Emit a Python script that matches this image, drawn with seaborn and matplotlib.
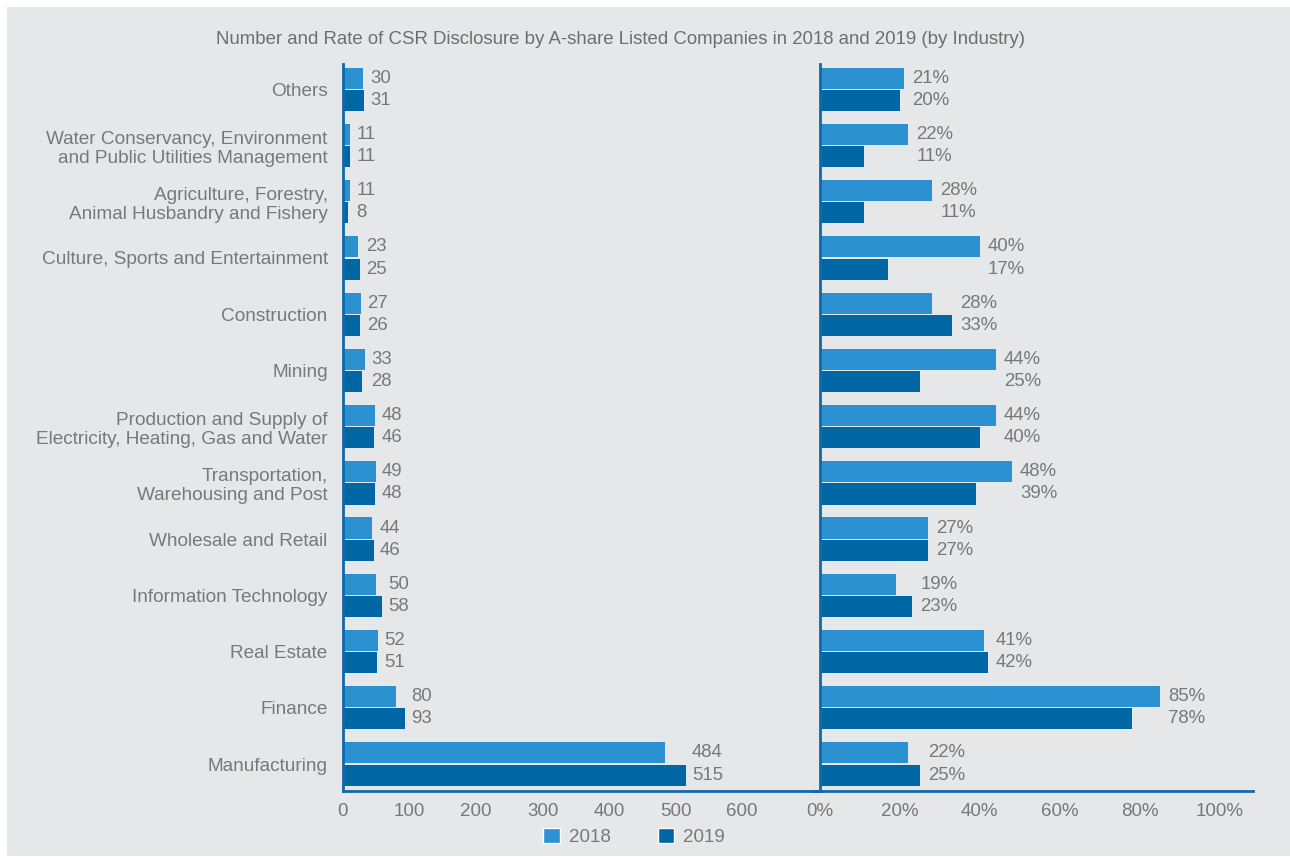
import matplotlib
matplotlib.use("Agg")
import matplotlib.pyplot as plt
import matplotlib.patches as mpatches
import seaborn as sns
import pandas as pd

categories = [
    "Others",
    "Water Conservancy, Environment\nand Public Utilities Management",
    "Agriculture, Forestry,\nAnimal Husbandry and Fishery",
    "Culture, Sports and Entertainment",
    "Construction",
    "Mining",
    "Production and Supply of\nElectricity, Heating, Gas and Water",
    "Transportation,\nWarehousing and Post",
    "Wholesale and Retail",
    "Information Technology",
    "Real Estate",
    "Finance",
    "Manufacturing",
]
count_2018 = [30, 11, 11, 23, 27, 33, 48, 49, 44, 50, 52, 80, 484]
count_2019 = [31, 11, 8, 25, 26, 28, 46, 48, 46, 58, 51, 93, 515]
rate_2018 = [21, 22, 28, 40, 28, 44, 44, 48, 27, 19, 41, 85, 22]
rate_2019 = [20, 11, 11, 17, 33, 25, 40, 39, 27, 23, 42, 78, 25]
years = ["2018", "2019"]
count_ticks = [0, 100, 200, 300, 400, 500, 600]
rate_ticks = [0, 20, 40, 60, 80, 100]
title = "Number and Rate of CSR Disclosure by A-share Listed Companies in 2018 and 2019 (by Industry)"

C18 = "#2b91d1"
C19 = "#0067a5"
SPINE = "#1169a8"
TXT = "#77787b"
BG = "#e6e7e9"
FONT = "Liberation Sans"

sns.set_theme(style="white")
plt.rcParams["font.family"] = [FONT, "DejaVu Sans"]

W, H = 1290, 857
fig = plt.figure(figsize=(W / 100, H / 100), dpi=100)
fig.patch.set_facecolor("white")
fig.add_artist(mpatches.Rectangle((7 / W, 1 / H), 1 - 7 / W, (H - 8) / H,
                                  transform=fig.transFigure, facecolor=BG,
                                  edgecolor="none", zorder=-10))

def long_df(v18, v19):
    return pd.DataFrame({
        "cat": categories * 2,
        "val": list(v18) + list(v19),
        "year": [years[0]] * len(categories) + [years[1]] * len(categories),
    })

bot = (H - 791) / H
top = (H - 64) / H
axL = fig.add_axes([343 / W, bot, (820 - 343) / W, top - bot])
axR = fig.add_axes([820 / W, bot, (1253 - 820) / W, top - bot])

for ax, v18, v19, xmax, ticks, fmt, off in [
    (axL, count_2018, count_2019, 717, count_ticks, "{:d}", 4.5),
    (axR, rate_2018, rate_2019, 108.4, rate_ticks, "{:d}%", 6),
]:
    sns.barplot(data=long_df(v18, v19), y="cat", x="val", hue="year",
                hue_order=years, palette=[C18, C19], orient="h",
                width=0.79, gap=0.05, legend=False, ax=ax, saturation=1,
                edgecolor="none", linewidth=0)
    ax.set_facecolor("none")
    ax.set_xlim(0, xmax)
    ax.set_ylim(12.48, -0.45)
    ax.set_xticks(ticks)
    ax.set_xticklabels([fmt.format(t) for t in ticks])
    ax.set_xlabel("")
    ax.set_ylabel("")
    ax.tick_params(axis="x", length=0, pad=9, labelsize=13.5, labelcolor=TXT)
    ax.tick_params(axis="y", length=0, pad=11, labelsize=13.7, labelcolor=TXT)
    for s in ["top", "right"]:
        ax.spines[s].set_visible(False)
    for s in ["left", "bottom"]:
        ax.spines[s].set_color(SPINE)
        ax.spines[s].set_linewidth(2)
    c18, c19 = ax.containers[0], ax.containers[1]
    for b18, b19 in zip(c18, c19):
        xm = max(b18.get_width(), b19.get_width())
        for b in (b18, b19):
            ax.annotate(fmt.format(int(round(b.get_width()))),
                        (xm, b.get_y() + b.get_height() / 2),
                        xytext=(off, 0), textcoords="offset points",
                        ha="left", va="center", fontsize=13.4, color=TXT)

axR.set_yticklabels([])
axR.spines["bottom"].set_bounds(-2, 108.4)
axR.spines["bottom"].set_clip_on(False)

fig.text(620 / W, 1 - 39 / H, title, ha="center", va="center",
         fontsize=13.4, color="#6d6e71")

handles = [mpatches.Patch(facecolor=C18, label=years[0]),
           mpatches.Patch(facecolor=C19, label=years[1])]
fig.legend(handles=handles, loc="center", bbox_to_anchor=(634 / W, 1 - 837 / H),
           ncol=2, frameon=False, fontsize=13.5, labelcolor=TXT,
           handlelength=0.9, handleheight=0.9, handletextpad=0.45,
           columnspacing=2.5)

fig.savefig("out.png", dpi=100, facecolor=fig.get_facecolor())
